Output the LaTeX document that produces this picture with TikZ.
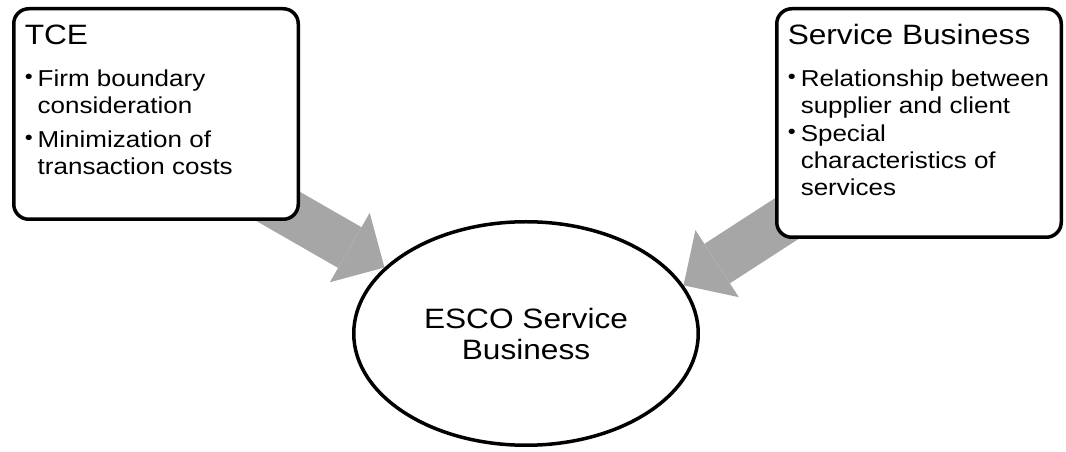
\documentclass[tikz,border=0pt]{standalone}
\usepackage{fontspec}
\setmainfont{Liberation Sans}[FakeStretch=1.13]
\usetikzlibrary{arrows.meta,shapes.geometric,backgrounds}
\definecolor{escoGray}{RGB}{166,166,166}
\newcommand{\escoitem}[1]{\par\hangindent=13pt\hangafter=1\noindent\makebox[13pt][l]{\raisebox{3pt}{\fontsize{20pt}{20pt}\selectfont\textbullet}}#1}

\begin{document}
\begin{tikzpicture}[
  x=1pt, y=1pt,
  theory/.style={
    draw,
    line width=3.5pt,
    rounded corners=15pt,
    fill=white,
    inner xsep=11pt,
    inner ysep=0pt
  },
  outcome/.style={
    draw,
    ellipse,
    line width=3.5pt,
    fill=white,
    inner sep=0pt,
    minimum width=344.5pt,
    minimum height=223.5pt,
    align=center,
    font=\fontsize{28pt}{31pt}\selectfont
  },
  flow/.style={-{Triangle[length=40pt,width=80pt,line width=0pt]},line width=47pt,escoGray}
]
  \useasboundingbox (0,0) rectangle (1066,452);
  \node[theory] (tce) at (156,338) {\begin{minipage}[t][210.5pt][t]{262.5pt}
    \rule{0pt}{35.75pt}{\fontsize{28pt}{30pt}\selectfont TCE}\par
    \fontsize{23pt}{27pt}\selectfont
    \vspace{15pt}
    \escoitem{Firm boundary\\consideration}
    \vspace{7pt}
    \escoitem{Minimization of\\transaction costs}
  \end{minipage}};
  \node[theory] (svc) at (919,329) {\begin{minipage}[t][228.5pt][t]{262.5pt}
    \rule{0pt}{35.5pt}{\fontsize{28pt}{30pt}\selectfont Service Business}\par
    \fontsize{23pt}{27pt}\selectfont
    \vspace{15pt}
    \escoitem{\mbox{Relationship between}\\supplier and client}
    \vspace{1pt}
    \escoitem{Special\\characteristics of\\services}
  \end{minipage}};
  \node[outcome] (esco) at (526,118.5) {ESCO Service\\Business};
  \coordinate (tcefoot) at (220,279);
  \coordinate (svcfoot) at (817,253);
  \begin{scope}[on background layer]
    \draw[flow] (tcefoot) -- (esco.155);
    \draw[flow] (svcfoot) -- (esco.17);
  \end{scope}
\end{tikzpicture}
\end{document}
